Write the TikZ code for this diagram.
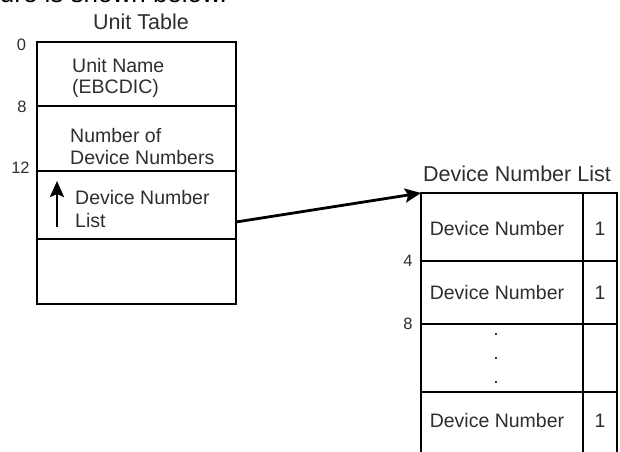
\documentclass[tikz,border=0pt]{standalone}
\usepackage{fontspec}
\setmainfont{Liberation Sans}
\usetikzlibrary{arrows.meta,calc}
\definecolor{txt}{HTML}{2E2E2E}
\begin{document}
\begin{tikzpicture}[x=1pt,y=-1pt,
  cell/.style={draw=black,line width=2.8pt,inner sep=0pt,outer sep=0pt,anchor=north west},
  lbl/.style={text=txt,font=\fontsize{19.5}{22}\selectfont,inner sep=0pt},
  ttl/.style={text=txt,font=\fontsize{21.5}{24}\selectfont,inner sep=0pt},
  off/.style={text=txt,font=\fontsize{16.5}{20}\selectfont,inner sep=0pt},
  ptr/.style={line width=2.8pt,-{Stealth[length=16pt,width=14pt,inset=3pt]}}]
\useasboundingbox (0,0) rectangle (620,451);
\clip (0,0) rectangle (620,451);
% clipped text at top
\node[anchor=base east,inner sep=0pt,font=\fontsize{26}{30}\selectfont] (top) at (227,2) {ure is shown below.};
% Unit table
\node[ttl,anchor=base] (ut) at (141,29) {Unit Table};
\node[cell,minimum width=199pt,minimum height=64pt] (u0) at (37,42) {};
\node[cell,minimum width=199pt,minimum height=65pt] (u8) at (37,106) {};
\node[cell,minimum width=199pt,minimum height=68pt] (u12) at (37,171) {};
\node[cell,minimum width=199pt,minimum height=65pt] (u16) at (37,239) {};
\node[lbl,anchor=north west,align=left,font=\fontsize{19.5}{21}\selectfont] (t0) at (72,58) {Unit Name\\(EBCDIC)};
\node[lbl,anchor=north west,align=left,font=\fontsize{19.5}{22}\selectfont] (t8) at (70,128) {Number of\\Device Numbers};
\node[lbl,anchor=north west,align=left,font=\fontsize{19.5}{23.5}\selectfont] (t12) at (75,190) {Device Number\\List};
\coordinate (ua) at (57,227);
\coordinate (ub) at (57,181);
\draw[ptr] (ua) -- (ub);
\node[off] (o0) at (21.5,45) {0};
\node[off] (o8) at (22,107) {8};
\node[off] (o12) at (20.5,168) {12};
% Device number list
\node[ttl,anchor=base] (dt) at (517,181) {Device Number List};
\node[cell,minimum width=162pt,minimum height=68pt] (d1) at (421,193) {};
\node[cell,minimum width=34pt,minimum height=68pt] (d1f) at (583,193) {};
\node[cell,minimum width=162pt,minimum height=63pt] (d2) at (421,261) {};
\node[cell,minimum width=34pt,minimum height=63pt] (d2f) at (583,261) {};
\node[cell,minimum width=162pt,minimum height=68pt] (d3) at (421,324) {};
\node[cell,minimum width=34pt,minimum height=68pt] (d3f) at (583,324) {};
\node[cell,minimum width=162pt,minimum height=90pt] (d4) at (421,392) {};
\node[cell,minimum width=34pt,minimum height=90pt] (d4f) at (583,392) {};
\node[lbl] (n1) at (497,229) {Device Number};
\node[lbl] (f1) at (600,229) {1};
\node[lbl] (n2) at (497,293) {Device Number};
\node[lbl] (f2) at (600,293) {1};
\node[lbl] (p1) at (496,334) {.};
\node[lbl] (p2) at (496,358) {.};
\node[lbl] (p3) at (496,382) {.};
\node[lbl] (n4) at (497,421) {Device Number};
\node[lbl] (f4) at (600,421) {1};
\node[off] (o4) at (408,260.5) {4};
\node[off] (o8b) at (408,323.5) {8};
% pointer
\draw[ptr] ($(u12.south east)!0.25!(u12.north east)$) -- (d1.north west);
\end{tikzpicture}
\end{document}
